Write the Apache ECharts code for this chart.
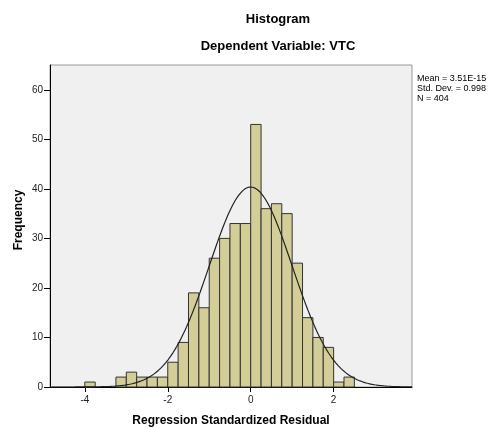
<!DOCTYPE html>
<html><head><meta charset="utf-8">
<script src="https://cdn.jsdelivr.net/npm/echarts@6/dist/echarts.min.js"></script>
<style>html,body{margin:0;padding:0;background:#fff}#c{width:492px;height:429px}</style>
</head><body><div id="c"></div>
<script>
// Bin lower edges (width 0.25) and counts
const binStarts = [-4, -3.75, -3.5, -3.25, -3, -2.75, -2.5, -2.25, -2, -1.75, -1.5, -1.25, -1, -0.75, -0.5, -0.25, 0, 0.25, 0.5, 0.75, 1, 1.25, 1.5, 1.75, 2, 2.25];
const counts    = [1, 0, 0, 2, 3, 2, 2, 2, 5, 9, 19, 16, 26, 30, 33, 33, 53, 36, 37, 35, 25, 14, 10, 8, 1, 2];
const binWidth = 0.25;
const xTicks = [-4, -2, 0, 2];
const yTicks = [0, 10, 20, 30, 40, 50, 60];
const statMean = 3.51e-15, statSD = 0.998, statN = 404;
const statLines = ['Mean = 3.51E-15', 'Std. Dev. = 0.998', 'N = 404'];
const yAxisTitle = 'Frequency';
const xMin = -4.84, xMax = 3.89;

// fitted normal curve from the stated statistics
const curve = [];
for (let i = 0; i <= 300; i++) {
  const x = xMin + (xMax - xMin) * i / 300;
  const z = (x - statMean) / statSD;
  curve.push([x, statN * binWidth / (statSD * Math.sqrt(2 * Math.PI)) * Math.exp(-0.5 * z * z)]);
}

const bars = binStarts.map((s, i) => [s, s + binWidth, counts[i]]).filter(d => d[2] > 0);

const chart = echarts.init(document.getElementById('c'), null, {renderer: 'canvas'});
chart.setOption({
  animation: false,
  backgroundColor: '#fff',
  textStyle: {fontFamily: 'Liberation Sans, Arial, sans-serif'},
  title: [
    {text: 'Histogram', left: 273, top: 8, textAlign: 'center',
     textStyle: {fontSize: 13, fontWeight: 'bold', color: '#000'}},
    {text: 'Dependent Variable: VTC', left: 273, top: 35, textAlign: 'center',
     textStyle: {fontSize: 13, fontWeight: 'bold', color: '#000'}}
  ],
  graphic: [{
    type: 'text', left: 417, top: 74,
    style: {text: statLines.join('\n'), fontSize: 9, lineHeight: 10, fill: '#000', fontFamily: 'Liberation Sans, Arial, sans-serif'}
  }, {
    type: 'text', x: 19, y: 220, rotation: Math.PI / 2,
    style: {text: yAxisTitle, fontSize: 12, fontWeight: 'bold', fill: '#000', align: 'center', verticalAlign: 'middle',
            fontFamily: 'Liberation Sans, Arial, sans-serif'}
  }],
  grid: {left: 50, right: 80, top: 65, bottom: 42, outerBoundsMode: 'none', containLabel: false,
         show: true, backgroundColor: '#f0f0f0', borderColor: '#999', borderWidth: 1},
  xAxis: {
    type: 'value', min: xMin, max: xMax,
    name: 'Regression Standardized Residual', nameLocation: 'middle', nameGap: 28,
    nameTextStyle: {fontSize: 12, fontWeight: 'bold', color: '#000'},
    axisLine: {show: true, onZero: false, lineStyle: {color: '#000', width: 1}},
    axisTick: {show: true, customValues: xTicks, length: 5, lineStyle: {color: '#000'}},
    axisLabel: {customValues: xTicks, fontSize: 10, color: '#222', margin: 8},
    splitLine: {show: false}
  },
  yAxis: {
    type: 'value', min: 0, max: 65,
    axisLine: {show: true, onZero: false, lineStyle: {color: '#000', width: 1}},
    axisTick: {show: true, customValues: yTicks, length: 6, lineStyle: {color: '#000'}},
    axisLabel: {customValues: yTicks, fontSize: 10, color: '#222', margin: 7},
    splitLine: {show: false}
  },
  series: [
    {
      type: 'custom',
      data: bars,
      encode: {x: [0, 1], y: 2},
      renderItem: function (params, api) {
        const p0 = api.coord([api.value(0), api.value(2)]);
        const p1 = api.coord([api.value(1), 0]);
        return {
          type: 'rect',
          shape: {x: p0[0], y: p0[1], width: p1[0] - p0[0], height: p1[1] - p0[1]},
          style: {fill: '#d3ce97', stroke: '#333', lineWidth: 1}
        };
      },
      z: 2
    },
    {
      type: 'line', data: curve, showSymbol: false, smooth: false,
      lineStyle: {color: '#222', width: 1.2}, z: 3
    }
  ]
});
</script></body></html>
